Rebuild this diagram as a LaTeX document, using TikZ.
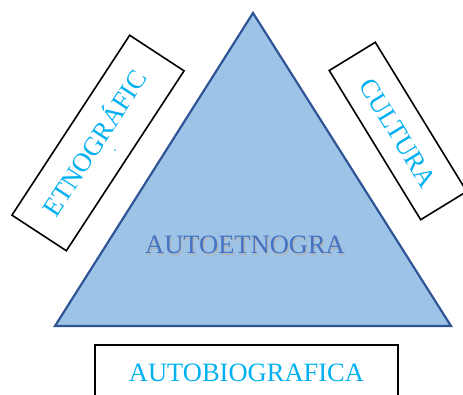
\documentclass[tikz,border=0pt]{standalone}
\usepackage{fontspec}
\setmainfont{Liberation Serif}
\usepackage{tikz}
\definecolor{trifill}{RGB}{157,195,230}
\definecolor{triline}{RGB}{47,85,151}
\definecolor{cyantext}{RGB}{0,176,240}
\definecolor{bluetext}{RGB}{68,114,196}
\tikzset{thick,
  framebox/.style={draw=black,line width=1.6pt,inner sep=0pt},
  boxtext/.style={text=cyantext,font=\fontsize{26.5}{30}\selectfont,inner sep=0pt}}

\begin{document}
\begin{tikzpicture}[x=1pt,y=-1pt]
% 固定画布大小
\useasboundingbox (0,0) rectangle (463,395);
% 三角形的三个顶点
\coordinate (top) at (253,13);
\coordinate (bl) at (55,326);
\coordinate (br) at (451,326);
% 填充并描边三角形
\draw[fill=trifill,draw=triline,line width=2.2pt,line join=miter] (top) -- (bl) -- (br) -- cycle;
% 三角形中的文字(带一点阴影)
\node[font=\fontsize{26.5}{30}\selectfont,text=black!30,inner sep=0pt] (autoshadow) at (246.2,246.6) {AUTOETNOGRA};
\node[font=\fontsize{26.5}{30}\selectfont,text=bluetext,inner sep=0pt] (auto) at (245,245) {AUTOETNOGRA};
% 左边的斜框
\node[framebox,rotate=56.8,minimum width=215pt,minimum height=65pt] (etnobox) at (98,143) {};
\node[boxtext,rotate=56.8] (etno) at (93,142) {ETNOGRÁFIC};
\node[boxtext,rotate=56.8,font=\fontsize{14}{16}\selectfont] (etnodot) at (115,151) {.};
% 右边的斜框
\node[framebox,rotate=-58.5,minimum width=175pt,minimum height=54pt] (culturabox) at (398,131) {};
\node[boxtext,rotate=-58.5] (cultura) at (398,133) {CULTURA};
% 底部的框
\node[framebox,minimum width=303pt,minimum height=56pt] (autobiobox) at (246.5,373) {};
\node[boxtext] (autobio) at (246.5,372.5) {AUTOBIOGRAFICA};
\end{tikzpicture}
\end{document}
